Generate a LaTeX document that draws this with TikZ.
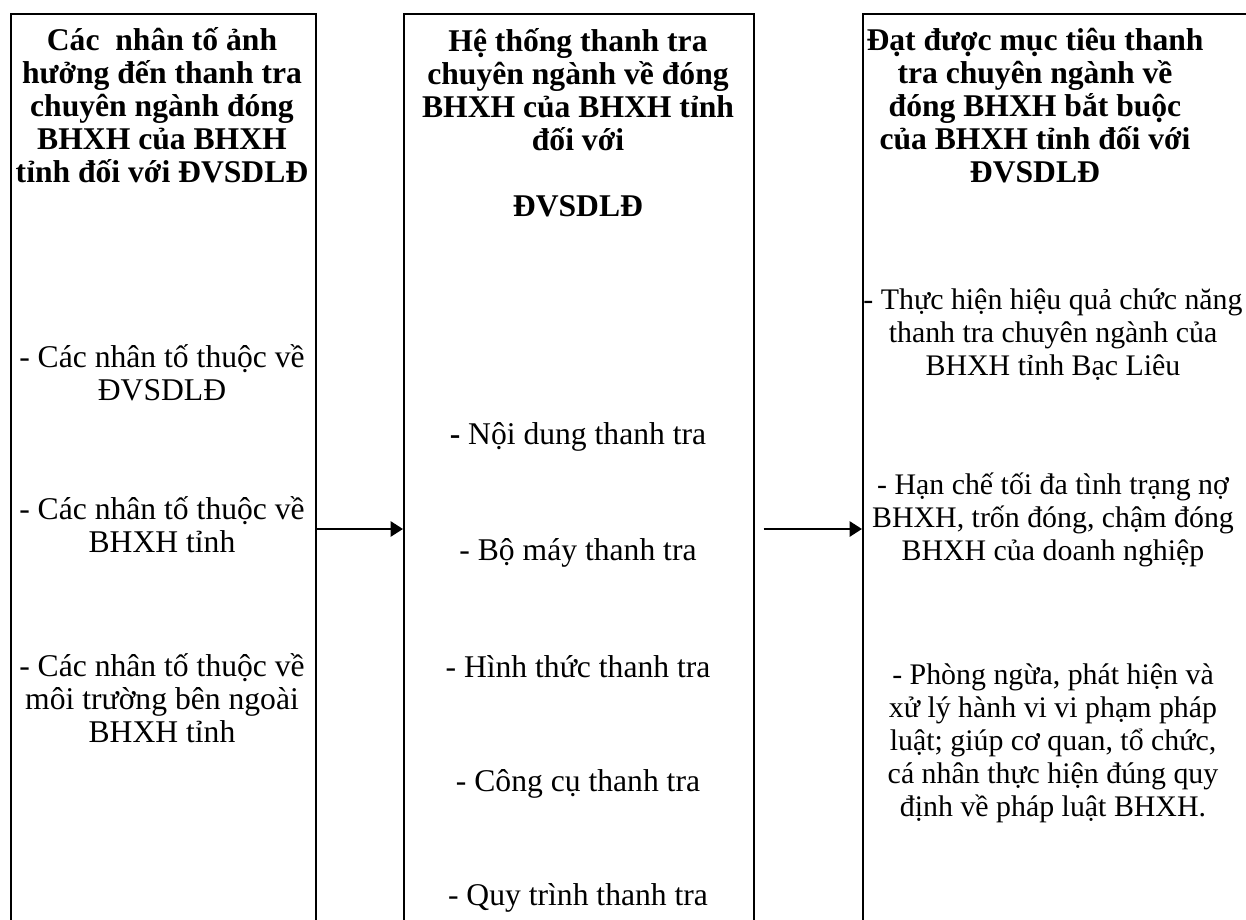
\documentclass[tikz,border=0pt]{standalone}
\usepackage{fontspec}
\setmainfont{Liberation Serif}
\usetikzlibrary{arrows.meta,positioning}

\begin{document}
\begin{tikzpicture}[x=0.02cm,y=-0.02cm,
  colbox/.style={draw,line width=1pt,minimum height=19cm,anchor=north west,inner sep=0pt},
  headtxt/.style={align=center,inner sep=0pt,font=\fontsize{18}{18.8}\selectfont\bfseries},
  itemtxt/.style={align=center,inner sep=0pt,font=\fontsize{18}{18.8}\selectfont},
  goaltxt/.style={itemtxt,font=\fontsize{17}{18.8}\selectfont},
  flow/.style={line width=1.5pt,-{Triangle[length=7pt,width=8.5pt]}}]
\useasboundingbox (0,0) rectangle (1246,919);
\clip (0,0) rectangle (1246,919);

\node[colbox,minimum width=6.1cm] (factors) at (10,13) {};
\node[colbox,minimum width=7cm] (system) at (403,13) {};
\node[colbox,minimum width=8cm] (goals) at (862,13) {};

\node[headtxt] (factorshead) at (162,105) {Các\ \ nhân tố ảnh\\hưởng đến thanh tra\\chuyên ngành đóng\\BHXH của BHXH\\tỉnh đối với ĐVSDLĐ};
\node[itemtxt] (factorsA) at (162,373) {- Các nhân tố thuộc về\\ĐVSDLĐ};
\node[itemtxt] (factorsB) at (162,525) {- Các nhân tố thuộc về\\BHXH tỉnh};
\node[itemtxt] (factorsC) at (162,698) {- Các nhân tố thuộc về\\môi trường bên ngoài\\BHXH tỉnh};

\node[headtxt] (systemhead) at (578,123) {Hệ thống thanh tra\\chuyên ngành về đóng\\BHXH của BHXH tỉnh\\đối với\\[18.8pt]ĐVSDLĐ};
\node[itemtxt] (systemA) at (578,437) {{\bfseries -} Nội dung thanh tra};
\node[itemtxt] (systemB) at (578,553) {- Bộ máy thanh tra};
\node[itemtxt] (systemC) at (578,667) {- Hình thức thanh tra};
\node[itemtxt] (systemD) at (578,784) {- Công cụ thanh tra};
\node[itemtxt] (systemE) at (578,898) {- Quy trình thanh tra};

\node[headtxt] (goalshead) at (1035,106) {Đạt được mục tiêu thanh\\tra chuyên ngành về\\đóng BHXH bắt buộc\\của BHXH tỉnh đối với\\ĐVSDLĐ};
\node[goaltxt] (goalsA) at (1053,335) {- Thực hiện hiệu quả chức năng\\thanh tra chuyên ngành của\\BHXH tỉnh Bạc Liêu};
\node[goaltxt] (goalsB) at (1053,520) {- Hạn chế tối đa tình trạng nợ\\BHXH, trốn đóng, chậm đóng\\BHXH của doanh nghiệp};
\node[goaltxt] (goalsC) at (1053,743) {- Phòng ngừa, phát hiện và\\xử lý hành vi vi phạm pháp\\luật; giúp cơ quan, tổ chức,\\cá nhân thực hiện đúng quy\\định về pháp luật BHXH.};

\coordinate (flowrow) at (0,529);
\coordinate[right=0.18cm of system.east] (flowgap);
\draw[flow] (factors.east |- flowrow) -- (system.west |- flowrow);
\draw[flow] (flowgap |- flowrow) -- (goals.west |- flowrow);
\end{tikzpicture}
\end{document}
